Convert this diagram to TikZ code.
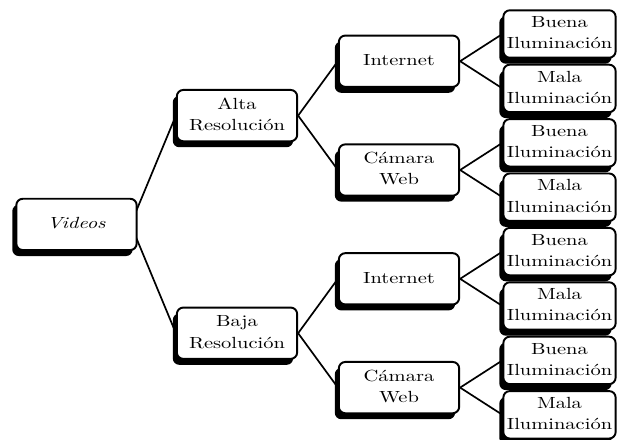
\documentclass[tikz,border=0pt]{standalone}
\usepackage{graphicx}
\usetikzlibrary{shadows,backgrounds}
\newcommand{\tx}[1]{\scalebox{1.27}[1]{\def\arraystretch{1.1}\begin{tabular}{@{}c@{}}#1\end{tabular}}}
\begin{document}
\begin{tikzpicture}[x=0.62pt,y=-0.62pt,
  box/.style={draw=black, line width=1.2pt, fill=white, rounded corners=4pt,
    inner sep=0pt, minimum width=74.6pt, minimum height=31.8pt,
    drop shadow={shadow xshift=-2.5pt, shadow yshift=-3.7pt, fill=black, opacity=1}},
  leaf/.style={box, minimum width=69.6pt, minimum height=29.4pt},
  conn/.style={line width=1.05pt}]
\useasboundingbox (0,0) rectangle (618,440);
\node[box] (v) at (76.5,224.4) {\tx{\textit{Videos}}};
\node[box] (a) at (237,115.6) {\tx{Alta\\Resolución}};
\node[box] (b) at (237,333.2) {\tx{Baja\\Resolución}};
\node[box] (i1) at (399,61.2) {\tx{Internet}};
\node[box] (c1) at (399,170) {\tx{Cámara\\Web}};
\node[box] (i2) at (399,278.8) {\tx{Internet}};
\node[box] (c2) at (399,387.6) {\tx{Cámara\\Web}};
\node[leaf] (l1) at (559.5,34) {\tx{Buena\\Iluminación}};
\node[leaf] (l2) at (559.5,88.4) {\tx{Mala\\Iluminación}};
\node[leaf] (l3) at (559.5,142.8) {\tx{Buena\\Iluminación}};
\node[leaf] (l4) at (559.5,197.2) {\tx{Mala\\Iluminación}};
\node[leaf] (l5) at (559.5,251.6) {\tx{Buena\\Iluminación}};
\node[leaf] (l6) at (559.5,306) {\tx{Mala\\Iluminación}};
\node[leaf] (l7) at (559.5,360.4) {\tx{Buena\\Iluminación}};
\node[leaf] (l8) at (559.5,414.8) {\tx{Mala\\Iluminación}};
\begin{scope}[on background layer]
\draw[conn] ([xshift=-4.3pt]v.east) -- (a.west);
\draw[conn] ([xshift=-4.3pt]v.east) -- (b.west);
\draw[conn] (a.east) -- (i1.west);
\draw[conn] (a.east) -- (c1.west);
\draw[conn] (b.east) -- (i2.west);
\draw[conn] (b.east) -- (c2.west);
\draw[conn] (i1.east) -- (l1.west);
\draw[conn] (i1.east) -- (l2.west);
\draw[conn] (c1.east) -- (l3.west);
\draw[conn] (c1.east) -- (l4.west);
\draw[conn] (i2.east) -- (l5.west);
\draw[conn] (i2.east) -- (l6.west);
\draw[conn] (c2.east) -- (l7.west);
\draw[conn] (c2.east) -- (l8.west);
\end{scope}
\end{tikzpicture}
\end{document}
